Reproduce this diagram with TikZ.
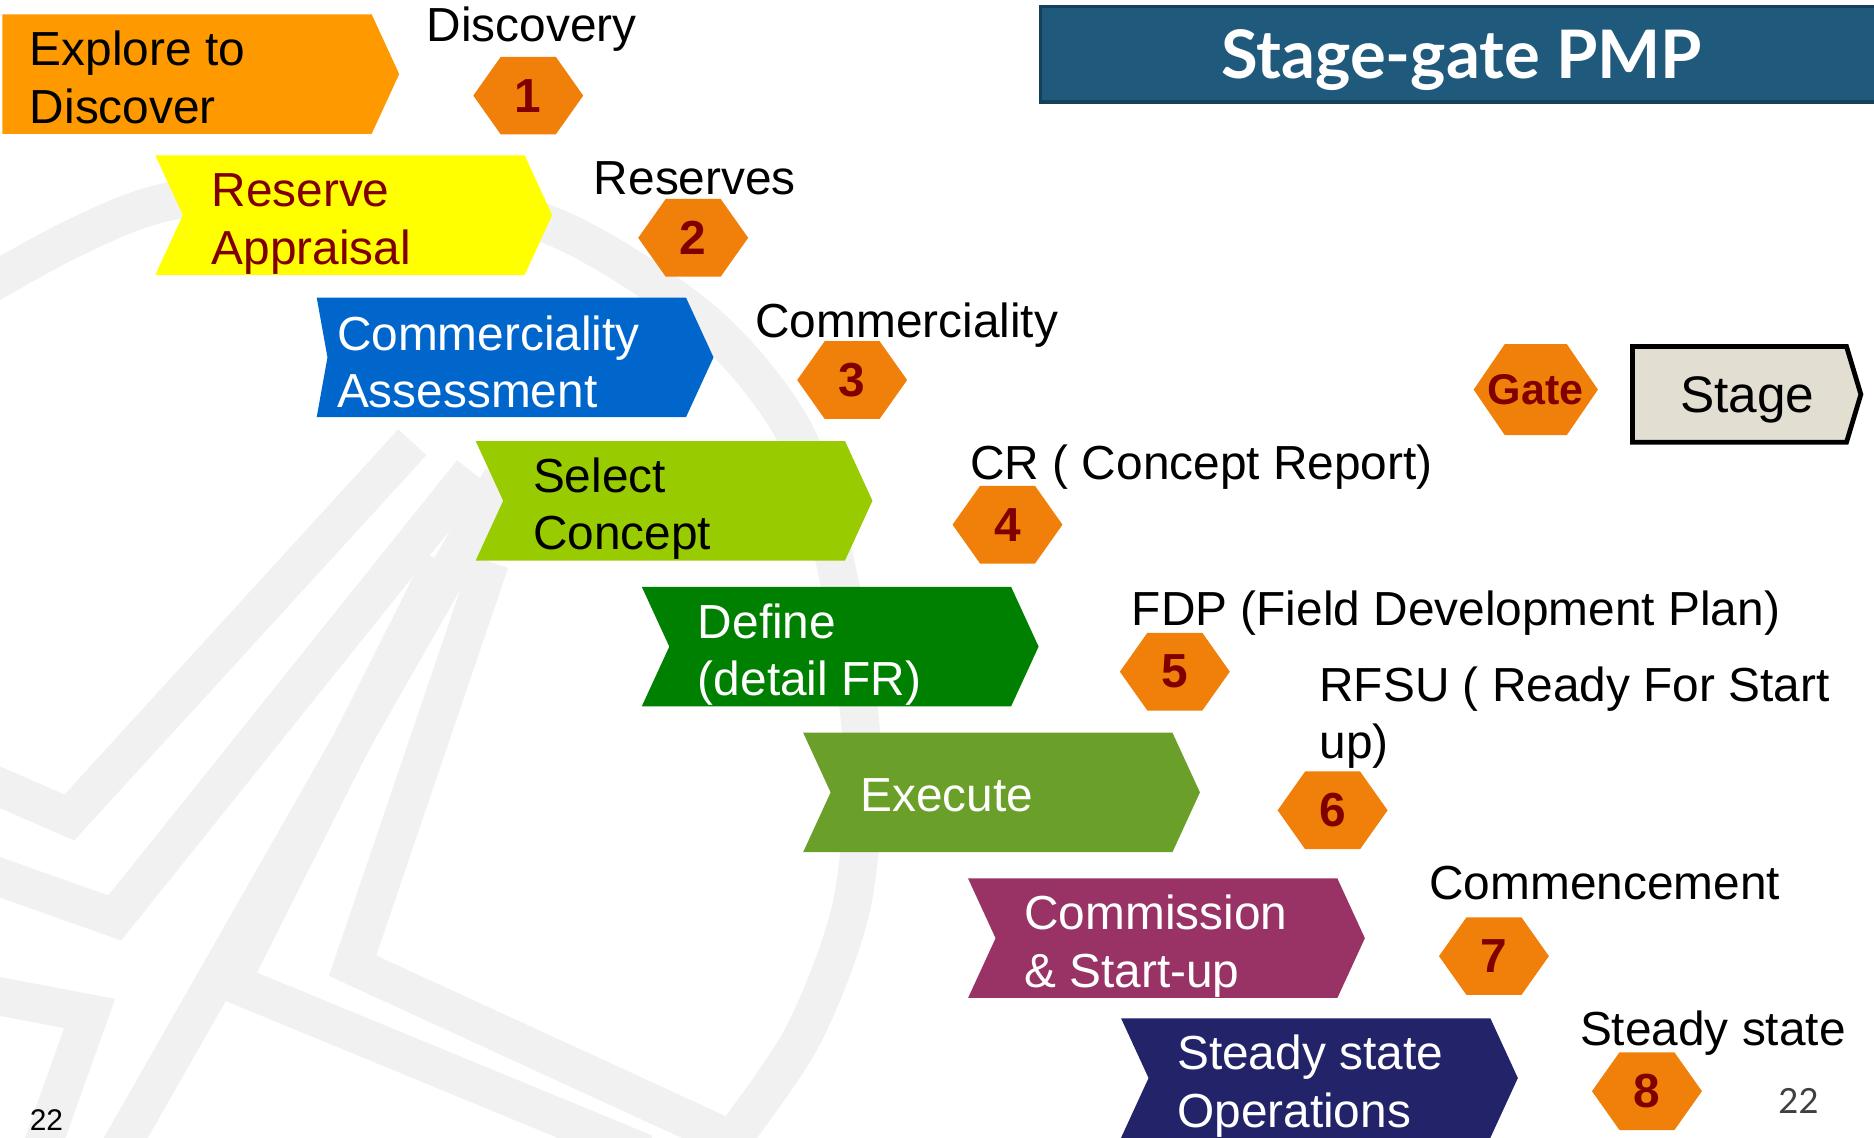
\documentclass[tikz,border=0pt]{standalone}
\usepackage{fontspec}
\setmainfont{Liberation Sans}
\newfontfamily\titlefont{Lato}
\usetikzlibrary{positioning}

\definecolor{explorecol}{HTML}{FF9900}
\definecolor{reservecol}{HTML}{FFFF00}
\definecolor{commercecol}{HTML}{0066CC}
\definecolor{selectcol}{HTML}{99CC00}
\definecolor{definecol}{HTML}{008000}
\definecolor{executecol}{HTML}{6A9F2A}
\definecolor{commissioncol}{HTML}{993366}
\definecolor{steadycol}{HTML}{23236A}
\definecolor{gatefill}{HTML}{F0800A}
\definecolor{gatered}{HTML}{800000}
\definecolor{titlebg}{HTML}{1F5A7D}
\definecolor{titleline}{HTML}{163F59}
\definecolor{stagebg}{HTML}{E3DED2}
\definecolor{wmgray}{HTML}{F1F1F1}
\definecolor{pagegray}{HTML}{404040}

\begin{document}
\begin{tikzpicture}[x=1pt,y=-1pt,
  every node/.style={inner sep=0pt,outer sep=0pt},
  stagetext/.style={anchor=base west,align=left,font=\fontsize{40}{48}\selectfont},
  milestone/.style={anchor=base west,align=left,font=\fontsize{40}{48}\selectfont},
  gatenum/.style={text=gatered,font=\bfseries\fontsize{40}{48}\selectfont},
  wmark/.style={draw=wmgray,line width=32pt}]
  \useasboundingbox (0,0) rectangle (1568,952);

  % faint logo in the background
  \draw[wmark] plot[smooth] coordinates {(-30,250) (60,200) (144,168) (300,150) (464,190) (590,270) (667,366) (705,500) (722,640) (712,760) (670,870) (600,970)};
  \draw[wmark] (-20,650) -- (58,684) -- (345,370);
  \draw[wmark] (-20,727) -- (96,768) -- (395,395);
  \draw[wmark] (95,970) -- (420,400);
  \draw[wmark] (-20,830) -- (75,848) -- (35,960);
  \draw[wmark] (540,965) -- (193,822) -- (370,470);
  \draw[wmark] (615,955) -- (295,808) -- (410,470);

  % title bar
  \fill[titlebg] (869,4) rectangle (1572,87);
  \draw[titleline,line width=3pt] (1572,5.5) -- (870.5,5.5) -- (870.5,85.5) -- (1572,85.5);
  \node[anchor=base,text=white,font=\titlefont\bfseries\fontsize{56}{60}\selectfont] (title) at (1223,66) {Stage-gate PMP};

  % stages
  \foreach \i/\L/\T/\n/\off/\b/\col/\tcol/\txt in {
      1/2/12/0/23/91/explorecol/black/{Explore to\\Discover},
      2/130/130/23/47/91/reservecol/gatered/{Reserve\\Appraisal},
      3/265/249/9/17/92/commercecol/white/{Commerciality\\Assessment},
      4/398/369/23/48/91/selectcol/black/{Select\\Concept},
      5/537/491/23/47/91/definecol/white/{Define\\(detail FR)},
      6/672/613/23/48/66/executecol/white/{Execute},
      7/810/735/23/47/91/commissioncol/white/{Commission\\\& Start-up},
      8/938/852/23/47/91/steadycol/white/{Steady state\\Operations}} {
    \fill[\col] (\L,\T) -- (\L+309,\T) -- (\L+332,\T+50) -- (\L+309,\T+100) -- (\L,\T+100) -- (\L+\n,\T+50) -- cycle;
    \node[stagetext,text=\tcol] (stage\i) at (\L+\off,\T+\b) {\txt};
  }

  % gates
  \foreach \i/\x/\y in {1/442/80,2/580/199,3/713/318,4/843/439,5/983/562,6/1115/678,7/1250/800,8/1378/913} {
    \fill[gatefill] (\x-46,\y) -- (\x-23,\y-32.5) -- (\x+23,\y-32.5) -- (\x+46,\y) -- (\x+23,\y+32.5) -- (\x-23,\y+32.5) -- cycle;
    \node[gatenum] (gate\i) at (\x,\y) {\i};
  }

  % milestones
  \node[milestone] (discovery) at (357,35) {Discovery};
  \node[milestone] (reserves) at (497,163) {Reserves};
  \node[milestone] (commercial) at (632,282) {Commerciality};
  \node[milestone] (cr) at (812,401) {CR ( Concept Report)};
  \node[milestone] (fdp) at (947,523) {FDP (Field Development Plan)};
  \node[milestone] (rfsu) at (1104,635) {RFSU ( Ready For Start\\up)};
  \node[milestone] (commence) at (1196,753) {Commencement};
  \node[milestone] (steady) at (1322,875) {Steady state};

  % legend
  \fill[gatefill] (1233,326) -- (1259,288) -- (1311,288) -- (1337,326) -- (1311,364) -- (1259,364) -- cycle;
  \node[text=gatered,font=\bfseries\fontsize{36}{40}\selectfont] (gatekey) at (1285,326) {Gate};
  \draw[line width=4pt,fill=stagebg] (1366,290) -- (1545,290) -- (1557,330) -- (1545,370) -- (1366,370) -- cycle;
  \node[font=\fontsize{43}{48}\selectfont] (stagekey) at (1462,335) {Stage};

  % page numbers
  \node[anchor=base west,font=\fontsize{25}{30}\selectfont] (pgleft) at (25,946) {22};
  \node[anchor=base west,text=pagegray,font=\titlefont\fontsize{29}{32}\selectfont] (pgright) at (1488,932) {22};
\end{tikzpicture}
\end{document}
